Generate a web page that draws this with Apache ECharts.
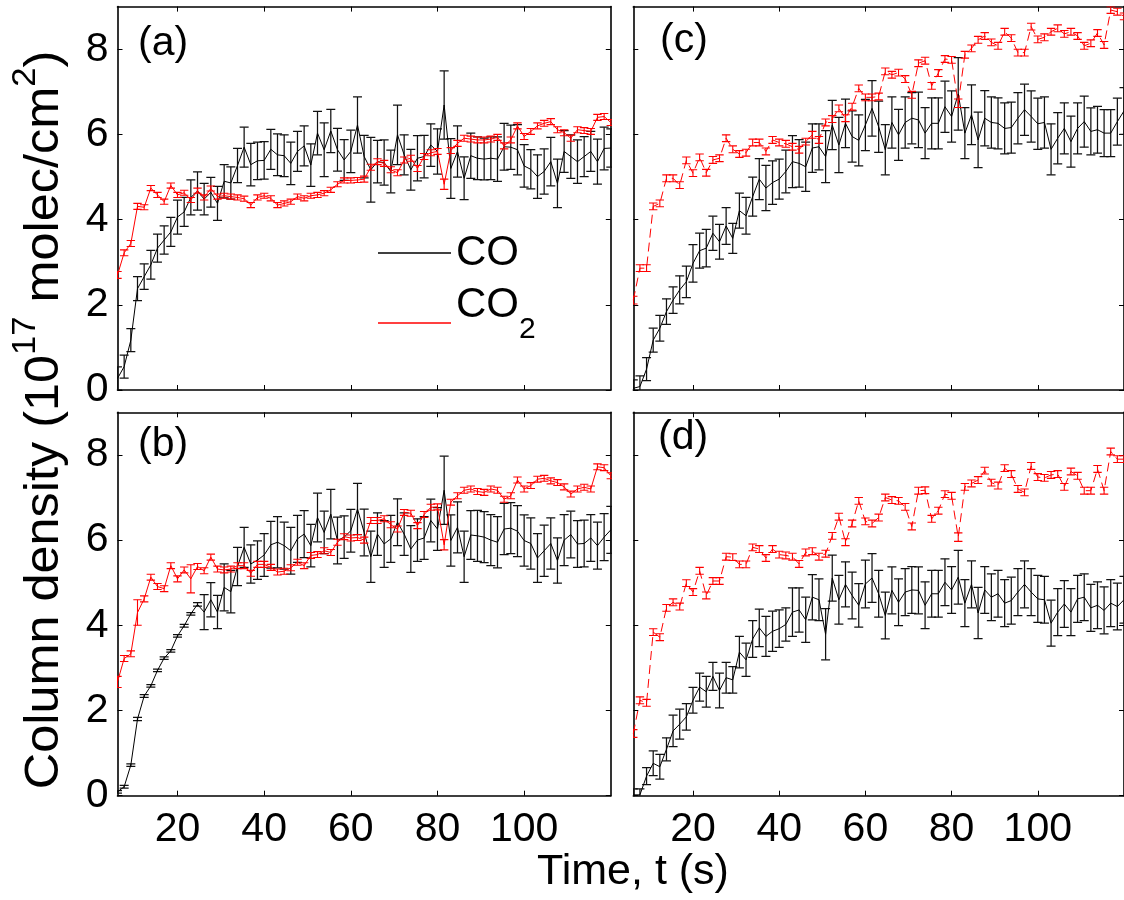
<!DOCTYPE html>
<html><head><meta charset="utf-8">
<script src="https://cdn.jsdelivr.net/npm/echarts@6/dist/echarts.min.js"></script>
<style>html,body{margin:0;padding:0;background:#fff}#c{width:1124px;height:900px}</style>
</head><body><div id="c"></div>
<script>
// ---- data (time in s, column density in 1e17 molec/cm^2) ----
const TIME = [
6.15, 7.69, 9.23, 10.77, 12.31, 13.85, 15.38, 16.92, 18.46, 20.00,
21.54, 23.08, 24.62, 26.15, 27.69, 29.23, 30.77, 32.31, 33.85, 35.38,
36.92, 38.46, 40.00, 41.54, 43.08, 44.62, 46.15, 47.69, 49.23, 50.77,
52.31, 53.85, 55.38, 56.92, 58.46, 60.00, 61.54, 63.08, 64.62, 66.15,
67.69, 69.23, 70.77, 72.31, 73.85, 75.38, 76.92, 78.46, 80.00, 81.54,
83.08, 84.62, 86.15, 87.69, 89.23, 90.77, 92.31, 93.85, 95.38, 96.92,
98.46, 100.00, 101.54, 103.08, 104.62, 106.15, 107.69, 109.23, 110.77, 112.31,
113.85, 115.38, 116.92, 118.46, 120.00];

const CO_A = [
0.27, 0.55, 1.17, 2.38, 2.66, 2.94, 3.33, 3.52, 3.71, 4.06,
4.18, 4.52, 4.67, 4.48, 4.64, 4.38, 4.90, 4.86, 5.27, 5.70,
5.29, 5.38, 5.39, 5.65, 5.52, 5.50, 5.32, 5.60, 5.73, 5.28,
6.03, 5.64, 6.08, 5.64, 5.40, 5.60, 6.22, 5.48, 5.17, 5.36,
5.34, 5.13, 5.99, 5.52, 5.17, 5.44, 5.48, 5.75, 5.60, 6.69,
5.20, 5.60, 4.97, 5.50, 5.44, 5.42, 5.44, 5.42, 5.71, 5.70,
5.64, 5.26, 5.18, 5.01, 5.13, 5.36, 4.85, 5.60, 5.48, 5.36,
5.48, 5.60, 5.36, 5.67, 5.68];
const CO_A_ERR = [
0.27, 0.27, 0.27, 0.28, 0.30, 0.34, 0.33, 0.33, 0.34, 0.40,
0.34, 0.41, 0.45, 0.37, 0.35, 0.40, 0.39, 0.38, 0.40, 0.47,
0.50, 0.44, 0.44, 0.47, 0.49, 0.49, 0.50, 0.47, 0.47, 0.50,
0.51, 0.63, 0.51, 0.50, 0.48, 0.50, 0.66, 0.50, 0.76, 0.50,
0.53, 0.50, 0.70, 0.47, 0.48, 0.53, 0.50, 0.50, 0.53, 0.80,
0.70, 0.60, 0.50, 0.53, 0.50, 0.49, 0.50, 0.52, 0.55, 0.52,
0.59, 0.50, 0.46, 0.51, 0.53, 0.57, 0.57, 0.49, 0.51, 0.51,
0.47, 0.47, 0.53, 0.50, 0.45];
const CO2_A = [
2.70, 3.22, 3.44, 4.31, 4.29, 4.74, 4.58, 4.42, 4.80, 4.58,
4.63, 4.46, 4.68, 4.52, 4.73, 4.54, 4.56, 4.54, 4.52, 4.49,
4.34, 4.52, 4.56, 4.50, 4.34, 4.38, 4.42, 4.54, 4.50, 4.56,
4.58, 4.62, 4.70, 4.83, 4.92, 4.92, 4.93, 4.95, 5.23, 5.36,
5.32, 5.17, 5.10, 5.40, 5.44, 5.20, 5.48, 5.57, 5.60, 4.83,
5.62, 5.79, 5.91, 5.89, 5.87, 5.87, 5.89, 5.93, 5.73, 5.87,
6.20, 5.95, 6.07, 6.20, 6.26, 6.30, 6.11, 6.04, 5.91, 6.11,
6.09, 6.07, 6.40, 6.42, 6.28];
const CO2_A_ERR = [
0.08, 0.07, 0.07, 0.07, 0.06, 0.06, 0.06, 0.06, 0.06, 0.06,
0.06, 0.06, 0.06, 0.06, 0.06, 0.06, 0.06, 0.06, 0.06, 0.06,
0.06, 0.06, 0.06, 0.06, 0.06, 0.06, 0.06, 0.06, 0.06, 0.06,
0.06, 0.06, 0.06, 0.06, 0.06, 0.06, 0.06, 0.07, 0.07, 0.07,
0.07, 0.07, 0.07, 0.07, 0.07, 0.07, 0.07, 0.07, 0.07, 0.12,
0.07, 0.07, 0.07, 0.07, 0.07, 0.07, 0.07, 0.07, 0.07, 0.07,
0.07, 0.07, 0.07, 0.07, 0.07, 0.07, 0.07, 0.07, 0.07, 0.07,
0.07, 0.07, 0.07, 0.07, 0.07];

const CO_B = [
0.09, 0.21, 0.72, 1.80, 2.34, 2.58, 2.94, 3.23, 3.40, 3.75,
3.99, 4.27, 4.49, 4.31, 4.60, 4.31, 4.89, 4.79, 5.38, 5.83,
5.44, 5.53, 5.65, 5.89, 5.95, 5.87, 5.75, 6.03, 6.14, 5.87,
6.53, 6.18, 6.61, 5.99, 6.07, 6.22, 6.73, 6.18, 5.61, 6.14,
5.91, 6.03, 6.42, 6.14, 5.79, 6.00, 6.05, 6.46, 6.26, 7.17,
5.99, 6.30, 5.61, 6.12, 6.10, 6.07, 6.00, 5.95, 6.26, 6.28,
6.21, 5.99, 5.92, 5.58, 5.75, 5.92, 5.52, 6.00, 6.13, 5.91,
5.92, 6.05, 5.87, 6.07, 6.24];
const CO_B_ERR = [
0.03, 0.03, 0.03, 0.04, 0.03, 0.03, 0.03, 0.03, 0.03, 0.03,
0.03, 0.03, 0.04, 0.41, 0.40, 0.39, 0.55, 0.50, 0.45, 0.47,
0.45, 0.45, 0.50, 0.55, 0.60, 0.55, 0.55, 0.55, 0.55, 0.50,
0.57, 0.50, 0.58, 0.55, 0.50, 0.50, 0.60, 0.55, 0.60, 0.50,
0.55, 0.55, 0.55, 0.50, 0.55, 0.50, 0.50, 0.50, 0.50, 0.80,
0.60, 0.60, 0.60, 0.57, 0.60, 0.60, 0.60, 0.60, 0.60, 0.60,
0.60, 0.60, 0.60, 0.57, 0.60, 0.60, 0.53, 0.60, 0.55, 0.55,
0.55, 0.55, 0.55, 0.55, 0.55];
const CO2_B = [
2.67, 3.22, 3.33, 4.30, 4.62, 5.13, 4.91, 4.86, 5.40, 5.09,
5.30, 5.09, 5.38, 5.28, 5.60, 5.32, 5.30, 5.32, 5.40, 5.40,
5.22, 5.43, 5.43, 5.36, 5.25, 5.27, 5.35, 5.48, 5.40, 5.64,
5.66, 5.75, 5.71, 5.95, 6.08, 6.05, 6.06, 6.00, 6.46, 6.46,
6.50, 6.36, 6.26, 6.65, 6.63, 6.34, 6.60, 6.77, 6.78, 5.89,
6.89, 7.04, 7.17, 7.20, 7.14, 7.12, 7.20, 7.17, 6.96, 7.04,
7.41, 7.20, 7.28, 7.43, 7.45, 7.39, 7.35, 7.25, 7.08, 7.20,
7.24, 7.20, 7.72, 7.70, 7.51];
const CO2_B_ERR = [
0.13, 0.07, 0.07, 0.30, 0.07, 0.07, 0.07, 0.07, 0.07, 0.07,
0.07, 0.33, 0.07, 0.07, 0.07, 0.07, 0.07, 0.07, 0.07, 0.07,
0.07, 0.07, 0.07, 0.07, 0.07, 0.07, 0.07, 0.07, 0.07, 0.07,
0.07, 0.07, 0.07, 0.07, 0.07, 0.07, 0.07, 0.07, 0.07, 0.07,
0.07, 0.07, 0.07, 0.07, 0.07, 0.07, 0.07, 0.07, 0.07, 0.12,
0.07, 0.07, 0.07, 0.07, 0.07, 0.07, 0.07, 0.07, 0.07, 0.07,
0.07, 0.07, 0.07, 0.07, 0.07, 0.07, 0.07, 0.07, 0.07, 0.07,
0.07, 0.07, 0.07, 0.07, 0.07];

const CO_C = [
0.04, 0.08, 0.49, 1.17, 1.45, 1.84, 2.11, 2.35, 2.54, 2.97,
3.27, 3.33, 3.68, 3.48, 3.85, 3.56, 4.21, 4.09, 4.54, 4.95,
4.74, 4.87, 4.95, 5.13, 5.36, 5.32, 5.24, 5.68, 5.71, 5.48,
6.22, 5.75, 6.26, 5.95, 5.86, 6.22, 6.61, 6.18, 5.64, 6.28,
5.99, 6.28, 6.38, 6.34, 6.03, 6.26, 6.26, 6.65, 6.42, 6.95,
6.03, 6.46, 5.87, 6.38, 6.28, 6.26, 6.14, 6.16, 6.38, 6.58,
6.42, 6.25, 6.28, 5.65, 5.91, 6.14, 5.83, 6.14, 6.30, 6.07,
6.11, 6.03, 6.03, 6.30, 6.55];
const CO_C_ERR = [
0.20, 0.25, 0.27, 0.28, 0.30, 0.30, 0.31, 0.33, 0.37, 0.44,
0.41, 0.44, 0.40, 0.41, 0.43, 0.35, 0.41, 0.43, 0.46, 0.48,
0.53, 0.51, 0.47, 0.50, 0.61, 0.56, 0.58, 0.57, 0.54, 0.61,
0.58, 0.65, 0.57, 0.60, 0.60, 0.60, 0.65, 0.60, 0.59, 0.60,
0.60, 0.60, 0.60, 0.65, 0.60, 0.60, 0.60, 0.60, 0.60, 0.85,
0.60, 0.70, 0.65, 0.65, 0.60, 0.60, 0.60, 0.60, 0.60, 0.60,
0.60, 0.60, 0.60, 0.60, 0.60, 0.60, 0.60, 0.60, 0.60, 0.55,
0.55, 0.55, 0.55, 0.55, 0.55];
const CO2_C = [
2.11, 2.86, 2.86, 4.31, 4.38, 4.97, 4.97, 4.81, 5.39, 5.09,
5.46, 5.10, 5.40, 5.44, 5.91, 5.65, 5.54, 5.57, 5.81, 5.81,
5.60, 5.87, 5.81, 5.78, 5.71, 5.64, 5.83, 5.99, 5.87, 6.28,
6.36, 6.61, 6.38, 6.65, 7.08, 6.87, 6.87, 6.89, 7.48, 7.40,
7.45, 7.30, 6.93, 7.67, 7.73, 7.14, 7.44, 7.77, 7.75, 6.73,
7.87, 8.02, 8.22, 8.31, 8.16, 8.08, 8.41, 8.26, 7.92, 7.92,
8.53, 8.23, 8.28, 8.41, 8.49, 8.36, 8.41, 8.31, 8.08, 8.14,
8.38, 8.10, 8.92, 8.88, 8.77];
const CO2_C_ERR = [
0.09, 0.08, 0.08, 0.08, 0.08, 0.08, 0.08, 0.08, 0.08, 0.08,
0.08, 0.08, 0.08, 0.08, 0.08, 0.08, 0.08, 0.08, 0.08, 0.08,
0.08, 0.08, 0.08, 0.08, 0.08, 0.08, 0.08, 0.08, 0.08, 0.08,
0.08, 0.08, 0.08, 0.08, 0.08, 0.08, 0.08, 0.08, 0.08, 0.08,
0.08, 0.08, 0.08, 0.08, 0.08, 0.08, 0.08, 0.08, 0.08, 0.10,
0.08, 0.08, 0.08, 0.08, 0.08, 0.08, 0.08, 0.08, 0.08, 0.08,
0.08, 0.08, 0.08, 0.08, 0.08, 0.08, 0.08, 0.08, 0.08, 0.08,
0.08, 0.08, 0.08, 0.08, 0.08];

const CO_D = [
0.02, 0.02, 0.46, 0.76, 0.68, 1.09, 1.52, 1.68, 1.85, 2.24,
2.55, 2.44, 2.80, 2.47, 2.77, 2.72, 3.37, 3.19, 3.68, 3.94,
3.74, 3.86, 3.92, 4.02, 4.31, 4.36, 4.13, 4.66, 4.60, 3.79,
5.11, 4.60, 4.96, 4.70, 4.47, 4.97, 5.11, 4.74, 4.23, 4.82,
4.54, 4.78, 4.83, 4.82, 4.47, 4.74, 4.74, 5.01, 4.83, 5.13,
4.52, 4.96, 4.29, 4.83, 4.66, 4.74, 4.52, 4.58, 4.78, 4.96,
4.78, 4.62, 4.60, 4.05, 4.31, 4.50, 4.31, 4.62, 4.66, 4.41,
4.47, 4.35, 4.52, 4.44, 4.60];
const CO_D_ERR = [
0.14, 0.14, 0.20, 0.29, 0.29, 0.27, 0.37, 0.35, 0.31, 0.30,
0.33, 0.36, 0.33, 0.41, 0.36, 0.31, 0.37, 0.39, 0.43, 0.44,
0.47, 0.47, 0.44, 0.39, 0.57, 0.52, 0.53, 0.53, 0.49, 0.60,
0.54, 0.57, 0.53, 0.55, 0.51, 0.56, 0.57, 0.55, 0.55, 0.55,
0.55, 0.55, 0.55, 0.55, 0.55, 0.55, 0.55, 0.55, 0.55, 0.63,
0.55, 0.55, 0.60, 0.55, 0.55, 0.55, 0.55, 0.55, 0.55, 0.55,
0.55, 0.55, 0.55, 0.54, 0.55, 0.55, 0.55, 0.55, 0.55, 0.55,
0.55, 0.55, 0.55, 0.55, 0.55];
const CO2_D = [
1.46, 2.24, 2.18, 3.84, 3.72, 4.41, 4.54, 4.44, 4.99, 4.78,
5.28, 4.70, 5.04, 5.04, 5.61, 5.60, 5.43, 5.43, 5.83, 5.79,
5.58, 5.79, 5.66, 5.64, 5.61, 5.44, 5.71, 5.74, 5.61, 5.68,
6.10, 6.55, 5.95, 6.39, 6.92, 6.44, 6.39, 6.53, 7.00, 6.94,
6.92, 6.78, 6.32, 7.16, 7.17, 6.50, 6.69, 7.08, 7.04, 6.07,
7.25, 7.33, 7.41, 7.63, 7.35, 7.28, 7.69, 7.55, 7.20, 7.12,
7.74, 7.48, 7.46, 7.53, 7.55, 7.25, 7.61, 7.51, 7.16, 7.16,
7.67, 7.16, 8.08, 7.90, 7.90];
const CO2_D_ERR = [
0.09, 0.08, 0.08, 0.08, 0.08, 0.08, 0.08, 0.08, 0.08, 0.08,
0.08, 0.08, 0.08, 0.08, 0.08, 0.08, 0.08, 0.08, 0.08, 0.08,
0.08, 0.08, 0.08, 0.08, 0.08, 0.08, 0.08, 0.08, 0.08, 0.08,
0.08, 0.08, 0.08, 0.08, 0.08, 0.08, 0.08, 0.08, 0.08, 0.08,
0.08, 0.08, 0.08, 0.08, 0.08, 0.08, 0.08, 0.08, 0.08, 0.10,
0.08, 0.08, 0.08, 0.08, 0.08, 0.08, 0.08, 0.08, 0.08, 0.08,
0.08, 0.08, 0.08, 0.08, 0.08, 0.08, 0.08, 0.08, 0.08, 0.08,
0.08, 0.08, 0.08, 0.08, 0.08];

const X_TICKS = [20, 40, 60, 80, 100];
const Y_TICKS = [0, 2, 4, 6, 8];
const SERIES_NAMES = ['CO', 'CO2'];
const PANEL_LABELS = ['(a)', '(b)', '(c)', '(d)'];
const X_LABEL = 'Time, t (s)';

// ---- layout / style ----
const FONT = '"Liberation Sans", Arial, Helvetica, sans-serif';
const X_MIN = 6.1538, X_MAX = 120, Y_MIN = 0, Y_MAX = 9;
const PW = 493.3, PH = 383.4;
const GRIDS = [
  {left: 117.5, top: 6.6},   // (a)
  {left: 117.5, top: 412.3}, // (b)
  {left: 633.3, top: 6.6},   // (c)
  {left: 633.3, top: 412.3}  // (d)
];
const PANELS = [
  {co: CO_A, coErr: CO_A_ERR, co2: CO2_A, co2Err: CO2_A_ERR, dashed: false, xlab: false, ylab: true,  lx: 138, ly: 44},
  {co: CO_B, coErr: CO_B_ERR, co2: CO2_B, co2Err: CO2_B_ERR, dashed: false, xlab: true,  ylab: true,  lx: 138, ly: 445},
  {co: CO_C, coErr: CO_C_ERR, co2: CO2_C, co2Err: CO2_C_ERR, dashed: true,  xlab: false, ylab: false, lx: 660, ly: 41},
  {co: CO_D, coErr: CO_D_ERR, co2: CO2_D, co2Err: CO2_D_ERR, dashed: true,  xlab: true,  ylab: false, lx: 658, ly: 438}
];

function errRender(capHalf, color, width) {
  return function (params, api) {
    const x = api.value(0), y = api.value(1), e = api.value(2);
    const lo = api.coord([x, y - e]), hi = api.coord([x, y + e]);
    const st = {stroke: color, lineWidth: width, fill: null};
    return {type: 'group', children: [
      {type: 'line', shape: {x1: lo[0], y1: lo[1], x2: hi[0], y2: hi[1]}, style: st},
      {type: 'line', shape: {x1: lo[0] - capHalf, y1: lo[1], x2: lo[0] + capHalf, y2: lo[1]}, style: st},
      {type: 'line', shape: {x1: hi[0] - capHalf, y1: hi[1], x2: hi[0] + capHalf, y2: hi[1]}, style: st}
    ]};
  };
}

const grid = [], xAxis = [], yAxis = [], series = [], graphic = [];
const axisLine = {show: true, onZero: false, lineStyle: {color: '#000', width: 1.6}};
PANELS.forEach((p, g) => {
  grid.push({left: GRIDS[g].left, top: GRIDS[g].top, width: PW, height: PH, containLabel: false});
  const tickX = {show: true, inside: true, length: 5, customValues: X_TICKS, lineStyle: {color: '#000', width: 1}};
  const tickY = {show: true, inside: true, length: 5, customValues: Y_TICKS, lineStyle: {color: '#000', width: 1}};
  xAxis.push({gridIndex: g, type: 'value', position: 'bottom', min: X_MIN, max: X_MAX,
    axisLine, axisTick: tickX, splitLine: {show: false},
    axisLabel: {show: p.xlab, customValues: X_TICKS, fontSize: 41, fontFamily: FONT, color: '#000', margin: 13}});
  xAxis.push({gridIndex: g, type: 'value', position: 'top', min: X_MIN, max: X_MAX,
    axisLine, axisTick: tickX, splitLine: {show: false}, axisLabel: {show: false}});
  yAxis.push({gridIndex: g, type: 'value', position: 'left', min: Y_MIN, max: Y_MAX,
    axisLine, axisTick: tickY, splitLine: {show: false},
    axisLabel: {show: p.ylab, customValues: Y_TICKS, fontSize: 41, fontFamily: FONT, color: '#000', margin: 9}});
  yAxis.push({gridIndex: g, type: 'value', position: 'right', min: Y_MIN, max: Y_MAX,
    axisLine, axisTick: tickY, splitLine: {show: false}, axisLabel: {show: false}});
  const xi = 2 * g, yi = 2 * g;
  const coPts = TIME.map((t, i) => [t, p.co[i], p.coErr[i]]);
  const co2Pts = TIME.map((t, i) => [t, p.co2[i], p.co2Err[i]]);
  series.push({type: 'custom', name: 'CO err', xAxisIndex: xi, yAxisIndex: yi, clip: true,
    renderItem: errRender(4.5, '#111', 1.25), encode: {x: 0, y: 1}, data: coPts, silent: true, z: 2});
  series.push({type: 'line', name: SERIES_NAMES[0], xAxisIndex: xi, yAxisIndex: yi, clip: true,
    data: coPts.map(d => [d[0], d[1]]), symbol: 'none', color: '#000',
    lineStyle: {color: '#000', width: 1}, z: 3});
  series.push({type: 'custom', name: 'CO2 err', xAxisIndex: xi, yAxisIndex: yi, clip: true,
    renderItem: errRender(4.2, '#ff0000', 1.1), encode: {x: 0, y: 1}, data: co2Pts, silent: true, z: 4});
  series.push({type: 'line', name: SERIES_NAMES[1], xAxisIndex: xi, yAxisIndex: yi, clip: true,
    data: co2Pts.map(d => [d[0], d[1]]), symbol: 'none', color: '#ff0000',
    lineStyle: {color: '#ff0000', width: 1, type: p.dashed ? [9, 5] : 'solid'}, z: 5});
  graphic.push({type: 'text', x: p.lx, y: p.ly, z: 10,
    style: {text: PANEL_LABELS[g], fontSize: 41, fontFamily: FONT, fill: '#000', align: 'left', verticalAlign: 'middle'}});
});

graphic.push({type: 'text', x: 633, y: 872, z: 10,
  style: {text: X_LABEL, fontSize: 43, fontFamily: FONT, fill: '#000', align: 'center', verticalAlign: 'middle'}});
graphic.push({type: 'text', x: 45, y: 420, rotation: Math.PI / 2, scaleX: 1.05, z: 10,
  style: {text: '{n|Column density (10}{p|17}{n| molec/cm}{p|2}{n|)}', align: 'center', verticalAlign: 'middle',
    rich: {
      n: {fontSize: 48, fontFamily: FONT, fill: '#000'},
      p: {fontSize: 33, fontFamily: FONT, fill: '#000', padding: [0, 0, 38, 0]}
    }}});

const legendBase = {orient: 'vertical', left: 378, padding: 0, icon: 'rect', itemWidth: 73, itemHeight: 1.3,
  selectedMode: false, inactiveColor: '#000'};
const option = {
  backgroundColor: '#fff',
  animation: false,
  grid, xAxis, yAxis, series, graphic,
  legend: [
    Object.assign({}, legendBase, {data: [SERIES_NAMES[0]], top: 232,
      textStyle: {fontSize: 42, fontFamily: FONT, color: '#000'}}),
    Object.assign({}, legendBase, {data: [SERIES_NAMES[1]], top: 284,
      formatter: () => '{m|CO}{s|2}',
      textStyle: {fontSize: 42, fontFamily: FONT, color: '#000',
        rich: {m: {fontSize: 42, fontFamily: FONT, color: '#000', padding: [0, 0, 36, 0]},
               s: {fontSize: 30, fontFamily: FONT, color: '#000', padding: [14, 0, 0, 0]}}}})
  ]
};
const chart = echarts.init(document.getElementById('c'), null, {renderer: 'canvas'});
chart.setOption(option);
</script></body></html>
